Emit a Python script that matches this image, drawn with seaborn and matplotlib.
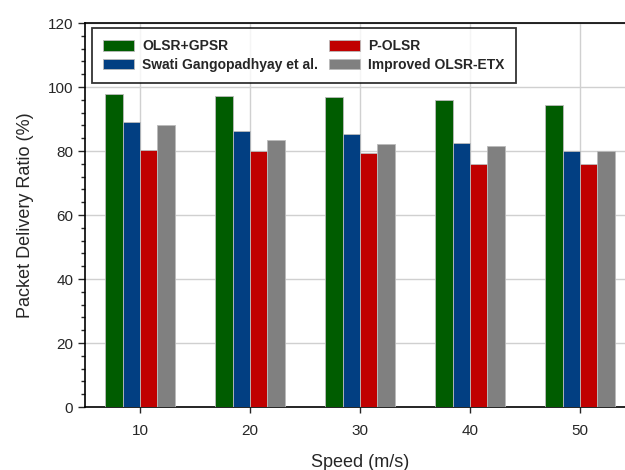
import pandas as pd
import numpy as np
import matplotlib
matplotlib.use("Agg")
import matplotlib.pyplot as plt
import seaborn as sns
from matplotlib.ticker import MultipleLocator

# ==========================================================
# Data
# ==========================================================

speeds = ["10", "20", "30", "40", "50"]
methods = ["OLSR+GPSR", "Swati Gangopadhyay et al.", "P-OLSR", "Improved OLSR-ETX"]

olsr_gpsr = [97.9, 97.1, 96.8, 96.1, 94.5]
swati = [89.0, 86.3, 85.4, 82.4, 80.0]
p_olsr = [80.2, 80.0, 79.5, 76.1, 75.9]
improved_etx = [88.2, 83.6, 82.2, 81.7, 80.0]

colors = ["#005c00", "#023f82", "#c00000", "#808080"]

rows = []
for name, vals in zip(methods, [olsr_gpsr, swati, p_olsr, improved_etx]):
    for s, v in zip(speeds, vals):
        rows.append({"Speed": s, "Method": name, "PDR": v})
df = pd.DataFrame(rows)

# ==========================================================
# Plot
# ==========================================================

sns.set_style("white")
plt.rcParams["font.family"] = ["Liberation Sans", "DejaVu Sans"]

fig = plt.figure(figsize=(6.25, 4.7), dpi=100)
ax = fig.add_axes([0.136, 0.134, 0.88, 0.817])

sns.barplot(
    data=df, x="Speed", y="PDR", hue="Method",
    hue_order=methods, order=speeds, palette=colors, saturation=1,
    width=0.63, gap=0, edgecolor="#bbbbbb", linewidth=0.6,
    ax=ax, zorder=3
)

ax.set_xlim(-0.5, 4.5)
ax.set_ylim(0, 120)
ax.yaxis.set_major_locator(MultipleLocator(20))
ax.yaxis.set_minor_locator(MultipleLocator(4))
ax.grid(True, which="major", color="#d0d0d0", linewidth=1.0, zorder=0)
ax.set_axisbelow(True)

for sp in ax.spines.values():
    sp.set_color("black")
    sp.set_linewidth(1.2)

ax.tick_params(axis="y", which="major", direction="out", length=5, width=1, left=True, labelsize=11)
ax.tick_params(axis="y", which="minor", direction="out", length=3, width=1, left=True)
ax.tick_params(axis="x", which="major", direction="out", length=4, width=1, bottom=True, labelsize=11, pad=8)

ax.set_xlabel("Speed (m/s)", fontsize=13, labelpad=12)
ax.set_ylabel("Packet Delivery Ratio (%)", fontsize=13, labelpad=10)

handles, labels = ax.get_legend_handles_labels()
leg = ax.legend(
    handles, labels, ncol=2, loc="upper left",
    bbox_to_anchor=(0.013, 0.987), borderaxespad=0, frameon=True, fancybox=False,
    edgecolor="black", prop={"weight": "bold", "size": 10},
    handlelength=2.2, handleheight=0.8, columnspacing=0.8,
    labelspacing=0.35, borderpad=0.8, handletextpad=0.6
)
leg.get_frame().set_linewidth(1.3)

fig.savefig("out.png", dpi=100)
